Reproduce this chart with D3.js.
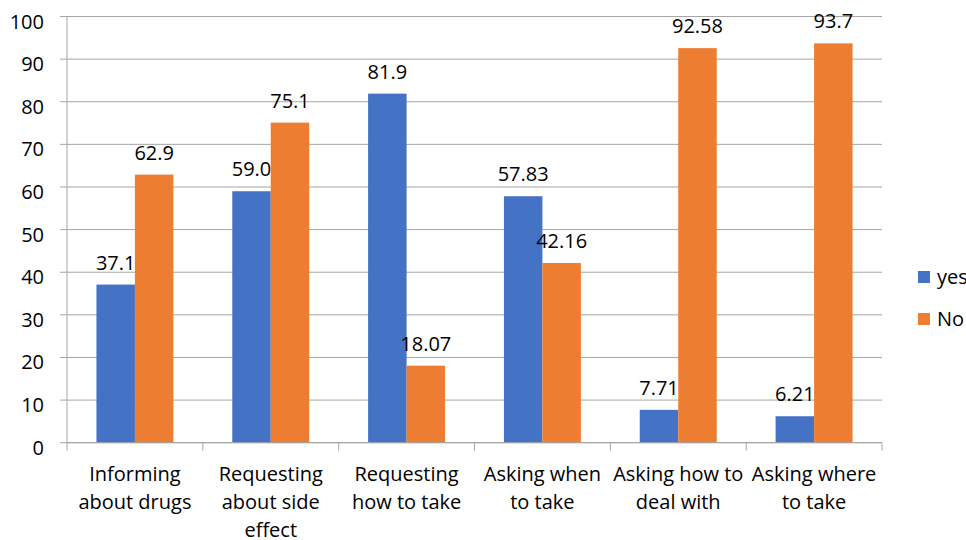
<!DOCTYPE html>
<html>
<head>
<meta charset="utf-8">
<script src="https://cdn.jsdelivr.net/npm/d3@7"></script>
<style>
  html, body { margin: 0; padding: 0; background: #fff; overflow: hidden; }
  svg { display: block; font-family: "Open Sans", sans-serif; }
</style>
</head>
<body>
<div id="chart"></div>
<script>
const categories = [
  ["Informing", "about drugs"],
  ["Requesting", "about side", "effect"],
  ["Requesting", "how to take"],
  ["Asking when", "to take"],
  ["Asking how to", "deal with"],
  ["Asking where", "to take"]
];
const yesValues = [37.1, 59.0, 81.9, 57.83, 7.71, 6.21];
const yesLabels = ["37.1", "59.0", "81.9", "57.83", "7.71", "6.21"];
const noValues = [62.9, 75.1, 18.07, 42.16, 92.58, 93.7];
const noLabels = ["62.9", "75.1", "18.07", "42.16", "92.58", "93.7"];
const yTicks = [0, 10, 20, 30, 40, 50, 60, 70, 80, 90, 100];
const seriesNames = ["yes", "No"];
const colors = ["#4472C4", "#ED7D31"];

const width = 966, height = 540;
const plot = { left: 67, right: 882, top: 16.5, bottom: 442.7 };
const axisColor = "#a6a6a6";
const fontSize = 20;

const svg = d3.select("#chart").append("svg")
  .attr("width", width).attr("height", height);

const x = d3.scaleBand()
  .domain(d3.range(categories.length))
  .range([plot.left, plot.right]);

const inner = d3.scaleBand()
  .domain([0, 1])
  .range([0, x.bandwidth()])
  .paddingOuter(0.765)
  .paddingInner(0);

const y = d3.scaleLinear().domain([0, 100]).range([plot.bottom, plot.top]);

// gridlines
svg.append("g")
  .selectAll("line")
  .data(yTicks)
  .join("line")
  .attr("x1", plot.left - 7).attr("x2", plot.right)
  .attr("y1", d => y(d)).attr("y2", d => y(d))
  .attr("stroke", axisColor).attr("stroke-width", 1);

// y axis line
svg.append("line")
  .attr("x1", plot.left).attr("x2", plot.left)
  .attr("y1", y(100)).attr("y2", plot.bottom)
  .attr("stroke", axisColor);

// y tick labels
svg.append("g")
  .selectAll("text")
  .data(yTicks)
  .join("text")
  .attr("x", 44)
  .attr("y", d => y(d) + 12)
  .attr("text-anchor", "end")
  .attr("font-size", fontSize)
  .attr("fill", "#000")
  .text(d => d);

// x axis ticks
const xBounds = d3.range(categories.length + 1).map(i => plot.left + i * x.step());
svg.append("g")
  .selectAll("line")
  .data(xBounds)
  .join("line")
  .attr("x1", d => d).attr("x2", d => d)
  .attr("y1", plot.bottom).attr("y2", plot.bottom + 8)
  .attr("stroke", axisColor);

// category labels
const catG = svg.append("g");
categories.forEach((lines, i) => {
  const t = catG.append("text")
    .attr("text-anchor", "middle")
    .attr("font-size", fontSize)
    .attr("fill", "#000");
  lines.forEach((ln, j) => {
    t.append("tspan")
      .attr("x", x(i) + x.bandwidth() / 2)
      .attr("y", 481 + j * 28)
      .text(ln);
  });
});

// bars and labels, series by series (labels of first series sit under later bars)
const series = [
  { values: yesValues, labels: yesLabels },
  { values: noValues, labels: noLabels }
];
series.forEach((s, k) => {
  const g = svg.append("g");
  g.selectAll("rect")
    .data(s.values)
    .join("rect")
    .attr("x", (d, i) => x(i) + inner(k))
    .attr("width", inner.bandwidth())
    .attr("y", d => y(d))
    .attr("height", d => plot.bottom - y(d))
    .attr("fill", colors[k]);
  g.selectAll("text")
    .data(s.values)
    .join("text")
    .attr("x", (d, i) => x(i) + inner(k) + inner.bandwidth() / 2)
    .attr("y", d => y(d) - 15)
    .attr("text-anchor", "middle")
    .attr("font-size", fontSize)
    .attr("fill", "#000")
    .text((d, i) => s.labels[i]);
});

// x axis line
svg.append("line")
  .attr("x1", plot.left).attr("x2", plot.right)
  .attr("y1", plot.bottom).attr("y2", plot.bottom)
  .attr("stroke", axisColor);

// legend
const legend = svg.append("g");
seriesNames.forEach((name, k) => {
  const ly = 277 + k * 42;
  legend.append("rect")
    .attr("x", 918).attr("y", ly - 6)
    .attr("width", 12).attr("height", 12)
    .attr("fill", colors[k]);
  legend.append("text")
    .attr("x", 937).attr("y", ly + 7)
    .attr("font-size", fontSize)
    .attr("fill", "#000")
    .text(name);
});
</script>
</body>
</html>
